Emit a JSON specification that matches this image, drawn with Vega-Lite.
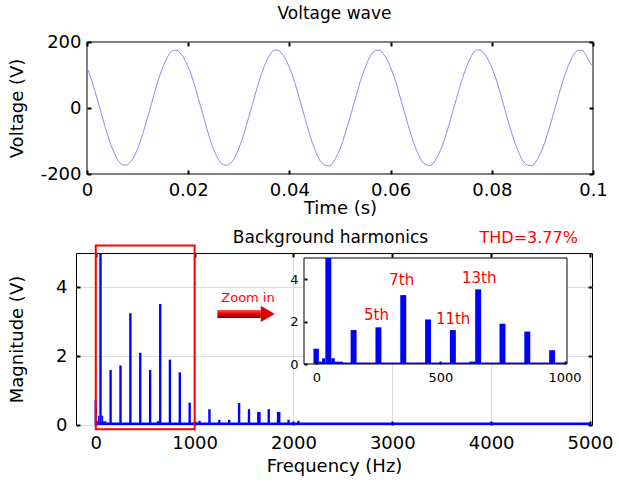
{
  "$schema": "https://vega.github.io/schema/vega-lite/v6.json",
  "padding": {"left": 8, "top": 5, "right": 3, "bottom": 3},
  "background": "white",
  "config": {
    "font": "DejaVu Sans",
    "view": {"stroke": "black", "strokeWidth": 1},
    "axis": {
      "labelFont": "DejaVu Sans", "labelFontSize": 18, "labelColor": "black",
      "titleFont": "DejaVu Sans", "titleFontSize": 18, "titleFontWeight": "normal", "titleColor": "black",
      "domain": false, "gridColor": "#dcdcdc", "gridWidth": 1,
      "tickColor": "black", "tickSize": -4, "tickWidth": 2,
      "labelFlush": false, "labelOverlap": false
    },
    "title": {"font": "DejaVu Sans", "fontSize": 17, "fontWeight": "normal", "color": "black"}
  },
  "datasets": {
    "wave": [
      {"t":0.0000,"v":122},{"t":0.0005,"v":103},{"t":0.0010,"v":80},{"t":0.0015,"v":55},{"t":0.0020,"v":28},{"t":0.0025,"v":2},{"t":0.0030,"v":-26},{"t":0.0035,"v":-53},{"t":0.0040,"v":-78},{"t":0.0045,"v":-103},
      {"t":0.0050,"v":-122},{"t":0.0055,"v":-140},{"t":0.0060,"v":-156},{"t":0.0065,"v":-166},{"t":0.0070,"v":-172},{"t":0.0075,"v":-173},{"t":0.0080,"v":-172},{"t":0.0085,"v":-165},{"t":0.0090,"v":-155},{"t":0.0095,"v":-141},
      {"t":0.0100,"v":-124},{"t":0.0105,"v":-103},{"t":0.0110,"v":-79},{"t":0.0115,"v":-54},{"t":0.0120,"v":-27},{"t":0.0125,"v":0},{"t":0.0130,"v":27},{"t":0.0135,"v":54},{"t":0.0140,"v":80},{"t":0.0145,"v":103},
      {"t":0.0150,"v":124},{"t":0.0155,"v":142},{"t":0.0160,"v":157},{"t":0.0165,"v":169},{"t":0.0170,"v":175},{"t":0.0175,"v":175},{"t":0.0180,"v":174},{"t":0.0185,"v":164},{"t":0.0190,"v":156},{"t":0.0195,"v":141},
      {"t":0.0200,"v":124},{"t":0.0205,"v":106},{"t":0.0210,"v":82},{"t":0.0215,"v":56},{"t":0.0220,"v":29},{"t":0.0225,"v":3},{"t":0.0230,"v":-25},{"t":0.0235,"v":-52},{"t":0.0240,"v":-79},{"t":0.0245,"v":-104},
      {"t":0.0250,"v":-124},{"t":0.0255,"v":-142},{"t":0.0260,"v":-157},{"t":0.0265,"v":-167},{"t":0.0270,"v":-172},{"t":0.0275,"v":-174},{"t":0.0280,"v":-172},{"t":0.0285,"v":-166},{"t":0.0290,"v":-156},{"t":0.0295,"v":-140},
      {"t":0.0300,"v":-123},{"t":0.0305,"v":-102},{"t":0.0310,"v":-78},{"t":0.0315,"v":-53},{"t":0.0320,"v":-26},{"t":0.0325,"v":1},{"t":0.0330,"v":28},{"t":0.0335,"v":55},{"t":0.0340,"v":81},{"t":0.0345,"v":104},
      {"t":0.0350,"v":125},{"t":0.0355,"v":143},{"t":0.0360,"v":158},{"t":0.0365,"v":170},{"t":0.0370,"v":175},{"t":0.0375,"v":176},{"t":0.0380,"v":174},{"t":0.0385,"v":165},{"t":0.0390,"v":155},{"t":0.0395,"v":140},
      {"t":0.0400,"v":123},{"t":0.0405,"v":104},{"t":0.0410,"v":81},{"t":0.0415,"v":55},{"t":0.0420,"v":28},{"t":0.0425,"v":1},{"t":0.0430,"v":-27},{"t":0.0435,"v":-54},{"t":0.0440,"v":-80},{"t":0.0445,"v":-104},
      {"t":0.0450,"v":-124},{"t":0.0455,"v":-143},{"t":0.0460,"v":-158},{"t":0.0465,"v":-168},{"t":0.0470,"v":-173},{"t":0.0475,"v":-175},{"t":0.0480,"v":-176},{"t":0.0485,"v":-168},{"t":0.0490,"v":-156},{"t":0.0495,"v":-141},
      {"t":0.0500,"v":-124},{"t":0.0505,"v":-103},{"t":0.0510,"v":-79},{"t":0.0515,"v":-54},{"t":0.0520,"v":-27},{"t":0.0525,"v":0},{"t":0.0530,"v":27},{"t":0.0535,"v":54},{"t":0.0540,"v":80},{"t":0.0545,"v":103},
      {"t":0.0550,"v":124},{"t":0.0555,"v":142},{"t":0.0560,"v":157},{"t":0.0565,"v":169},{"t":0.0570,"v":175},{"t":0.0575,"v":175},{"t":0.0580,"v":175},{"t":0.0585,"v":164},{"t":0.0590,"v":155},{"t":0.0595,"v":141},
      {"t":0.0600,"v":123},{"t":0.0605,"v":103},{"t":0.0610,"v":80},{"t":0.0615,"v":54},{"t":0.0620,"v":27},{"t":0.0625,"v":0},{"t":0.0630,"v":-27},{"t":0.0635,"v":-54},{"t":0.0640,"v":-79},{"t":0.0645,"v":-103},
      {"t":0.0650,"v":-123},{"t":0.0655,"v":-141},{"t":0.0660,"v":-157},{"t":0.0665,"v":-167},{"t":0.0670,"v":-172},{"t":0.0675,"v":-174},{"t":0.0680,"v":-175},{"t":0.0685,"v":-166},{"t":0.0690,"v":-155},{"t":0.0695,"v":-140},
      {"t":0.0700,"v":-123},{"t":0.0705,"v":-102},{"t":0.0710,"v":-78},{"t":0.0715,"v":-53},{"t":0.0720,"v":-26},{"t":0.0725,"v":1},{"t":0.0730,"v":28},{"t":0.0735,"v":55},{"t":0.0740,"v":81},{"t":0.0745,"v":104},
      {"t":0.0750,"v":125},{"t":0.0755,"v":143},{"t":0.0760,"v":158},{"t":0.0765,"v":170},{"t":0.0770,"v":176},{"t":0.0775,"v":176},{"t":0.0780,"v":174},{"t":0.0785,"v":165},{"t":0.0790,"v":155},{"t":0.0795,"v":140},
      {"t":0.0800,"v":122},{"t":0.0805,"v":103},{"t":0.0810,"v":80},{"t":0.0815,"v":54},{"t":0.0820,"v":27},{"t":0.0825,"v":0},{"t":0.0830,"v":-27},{"t":0.0835,"v":-54},{"t":0.0840,"v":-79},{"t":0.0845,"v":-103},
      {"t":0.0850,"v":-123},{"t":0.0855,"v":-141},{"t":0.0860,"v":-157},{"t":0.0865,"v":-167},{"t":0.0870,"v":-173},{"t":0.0875,"v":-174},{"t":0.0880,"v":-176},{"t":0.0885,"v":-167},{"t":0.0890,"v":-156},{"t":0.0895,"v":-141},
      {"t":0.0900,"v":-124},{"t":0.0905,"v":-103},{"t":0.0910,"v":-79},{"t":0.0915,"v":-54},{"t":0.0920,"v":-27},{"t":0.0925,"v":0},{"t":0.0930,"v":27},{"t":0.0935,"v":54},{"t":0.0940,"v":80},{"t":0.0945,"v":103},
      {"t":0.0950,"v":124},{"t":0.0955,"v":142},{"t":0.0960,"v":157},{"t":0.0965,"v":169},{"t":0.0970,"v":175},{"t":0.0975,"v":175},{"t":0.0980,"v":174},{"t":0.0985,"v":163},{"t":0.0990,"v":148},{"t":0.0995,"v":134},
      {"t":0.1000,"v":128}
    ],
    "spec": [
      {"f0":0,"f1":5000,"m":0.07},
      {"f0":-12,"f1":10,"m":0.72},
      {"f0":10,"f1":23,"m":0.11},
      {"f0":23,"f1":36,"m":0.27},
      {"f0":36,"f1":60,"m":175},
      {"f0":60,"f1":74,"m":0.27},
      {"f0":74,"f1":87,"m":0.11},
      {"f0":87,"f1":107,"m":0.11},
      {"f0":138,"f1":162,"m":1.6},
      {"f0":238,"f1":262,"m":1.73},
      {"f0":338,"f1":362,"m":3.25},
      {"f0":438,"f1":462,"m":2.1},
      {"f0":538,"f1":562,"m":1.6},
      {"f0":616,"f1":640,"m":0.11},
      {"f0":640,"f1":664,"m":3.52},
      {"f0":738,"f1":762,"m":1.9},
      {"f0":838,"f1":862,"m":1.53},
      {"f0":938,"f1":962,"m":0.65},
      {"f0":1038,"f1":1062,"m":0.12},
      {"f0":1138,"f1":1162,"m":0.46},
      {"f0":1238,"f1":1262,"m":0.15},
      {"f0":1338,"f1":1362,"m":0.15},
      {"f0":1438,"f1":1462,"m":0.64},
      {"f0":1538,"f1":1562,"m":0.46},
      {"f0":1632,"f1":1668,"m":0.38},
      {"f0":1738,"f1":1762,"m":0.46},
      {"f0":1832,"f1":1868,"m":0.38},
      {"f0":1938,"f1":1962,"m":0.15},
      {"f0":2038,"f1":2062,"m":0.12}
    ],
    "harm": [
      {"label":"5th","f":242,"m":2.31},
      {"label":"7th","f":344,"m":3.95},
      {"label":"11th","f":551,"m":2.14},
      {"label":"13th","f":656,"m":4.06}
    ],
    "one": [{}]
  },
  "concat": [
    {
      "width": 517,
      "height": 132,
      "view": {"stroke": null},
      "title": {"text": "Voltage wave", "offset": 10, "frame": "group"},
      "layer": [
        {
          "data": {"name": "one"},
          "mark": {"type": "rect", "fill": null, "stroke": "black", "strokeWidth": 1},
          "encoding": {
            "x": {"datum": 0, "type": "quantitative",
                  "axis": {"orient": "top", "values": [0, 0.02, 0.04, 0.06, 0.08, 0.1], "labels": false, "grid": false, "title": null}},
            "x2": {"datum": 0.1},
            "y": {"datum": -200, "type": "quantitative",
                  "axis": {"orient": "right", "values": [-200, 0, 200], "labels": false, "grid": false, "title": null}},
            "y2": {"datum": 200}
          }
        },
        {
          "data": {"name": "wave"},
          "mark": {"type": "line", "color": "#8a8aff", "strokeWidth": 1},
          "encoding": {
            "x": {"field": "t", "type": "quantitative",
                  "scale": {"domain": [0, 0.1], "range": [11, 517], "nice": false, "zero": false},
                  "axis": {"orient": "bottom", "values": [0, 0.02, 0.04, 0.06, 0.08, 0.1], "labelExpr": "'' + datum.value", "title": "Time (s)", "labelPadding": 11, "titlePadding": 0}},
            "y": {"field": "v", "type": "quantitative",
                  "scale": {"domain": [-200, 200], "nice": false},
                  "axis": {"orient": "left", "offset": -11, "values": [-200, 0, 200], "labelExpr": "'' + datum.value", "title": "Voltage (V)", "labelPadding": 10, "titlePadding": 14}}
          }
        }
      ],
      "resolve": {"axis": {"x": "independent", "y": "independent"}}
    },
    {
      "width": 516,
      "height": 172,
      "layer": [
        {
          "layer": [
            {
              "data": {"name": "spec"},
              "mark": {"type": "rect", "color": "#0000ff", "clip": true},
              "encoding": {
                "x": {"field": "f0", "type": "quantitative",
                      "scale": {"domain": [-200, 5020], "nice": false, "zero": false},
                      "axis": {"orient": "bottom", "values": [0, 1000, 2000, 3000, 4000, 5000], "labelExpr": "'' + datum.value", "title": "Frequency (Hz)", "labelPadding": 13, "titlePadding": 5}},
                "x2": {"field": "f1"},
                "y": {"field": "m", "type": "quantitative",
                      "scale": {"domain": [0, 5], "nice": false},
                      "axis": {"orient": "left", "values": [0, 2, 4], "labelExpr": "'' + datum.value", "title": "Magnitude (V)", "labelPadding": 13, "titlePadding": 29}},
                "y2": {"datum": 0}
              }
            },
            {
              "data": {"name": "one"},
              "mark": {"type": "rect", "fill": null, "stroke": "#ff0000", "strokeWidth": 2, "clip": false},
              "encoding": {
                "x": {"datum": 0, "type": "quantitative",
                      "axis": {"orient": "top", "values": [0, 1000, 2000, 3000, 4000, 5000], "labels": false, "grid": false, "title": null}},
                "x2": {"datum": 1000},
                "y": {"datum": -0.12, "type": "quantitative",
                      "axis": {"orient": "right", "values": [0, 2, 4], "labels": false, "grid": false, "title": null}},
                "y2": {"datum": 5.22}
              }
            },
            {
              "data": {"name": "one"},
              "mark": {"type": "rect", "fill": {"gradient": "linear", "x1": 0, "y1": 0, "x2": 0, "y2": 1, "stops": [{"offset": 0, "color": "#ff5050"}, {"offset": 0.5, "color": "#e00000"}, {"offset": 1, "color": "#8a0000"}]}},
              "encoding": {
                "x": {"datum": 1230, "type": "quantitative", "axis": null},
                "x2": {"datum": 1670},
                "y": {"datum": 3.11, "type": "quantitative", "axis": null},
                "y2": {"datum": 3.34}
              }
            },
            {
              "data": {"name": "one"},
              "mark": {"type": "point", "shape": "triangle-right", "size": 260, "filled": true, "color": "#e00000", "opacity": 1},
              "encoding": {
                "x": {"datum": 1740, "type": "quantitative", "axis": null},
                "y": {"datum": 3.23, "type": "quantitative", "axis": null}
              }
            },
            {
              "data": {"name": "one"},
              "mark": {"type": "text", "text": "Zoom in", "fontSize": 13, "color": "#ff0000", "align": "center", "baseline": "middle"},
              "encoding": {
                "x": {"datum": 1540, "type": "quantitative", "axis": null},
                "y": {"datum": 3.68, "type": "quantitative", "axis": null}
              }
            },
            {
              "data": {"name": "one"},
              "mark": {"type": "text", "text": "THD=3.77%", "fontSize": 16, "color": "#ff0000", "align": "center", "baseline": "middle"},
              "encoding": {
                "x": {"datum": 4380, "type": "quantitative", "axis": null},
                "y": {"datum": 5.44, "type": "quantitative", "axis": null}
              }
            },
            {
              "data": {"name": "one"},
              "mark": {"type": "text", "text": "Background harmonics", "fontSize": 17, "color": "black", "align": "center", "baseline": "middle"},
              "encoding": {
                "x": {"datum": 2375, "type": "quantitative", "axis": null},
                "y": {"datum": 5.44, "type": "quantitative", "axis": null}
              }
            }
          ],
          "resolve": {"axis": {"x": "independent", "y": "independent"}}
        },
        {
          "layer": [
            {
              "data": {"name": "one"},
              "mark": {"type": "rect", "fill": "white", "stroke": "black", "strokeWidth": 1},
              "encoding": {
                "x": {"datum": -50, "type": "quantitative",
                      "scale": {"domain": [-50, 1010], "range": [228, 491], "clamp": true, "nice": false, "zero": false},
                      "axis": {"orient": "bottom", "offset": -61, "values": [0, 500, 1000], "labelExpr": "'' + datum.value", "labelFontSize": 13, "title": null, "tickSize": -3, "labelPadding": 10, "zindex": 1}},
                "x2": {"datum": 1010},
                "y": {"datum": 0, "type": "quantitative",
                      "scale": {"domain": [0, 5], "range": [111, 5], "clamp": true, "nice": false, "zero": false},
                      "axis": {"orient": "left", "offset": -228, "values": [0, 2, 4], "labelExpr": "'' + datum.value", "labelFontSize": 13, "title": null, "tickSize": -3, "labelPadding": 9, "zindex": 1}},
                "y2": {"datum": 5}
              }
            },
            {
              "data": {"name": "spec"},
              "mark": {"type": "rect", "color": "#0000ff"},
              "encoding": {
                "x": {"field": "f0", "type": "quantitative"},
                "x2": {"field": "f1"},
                "y": {"field": "m", "type": "quantitative"},
                "y2": {"datum": 0}
              }
            },
            {
              "data": {"name": "harm"},
              "mark": {"type": "text", "fontSize": 15, "color": "#ff0000", "align": "center", "baseline": "middle"},
              "encoding": {
                "x": {"field": "f", "type": "quantitative"},
                "y": {"field": "m", "type": "quantitative"},
                "text": {"field": "label"}
              }
            }
          ]
        }
      ],
      "resolve": {"scale": {"x": "independent", "y": "independent"}, "axis": {"x": "independent", "y": "independent"}}
    }
  ],
  "columns": 1,
  "spacing": 11,
  "bounds": "full"
}
